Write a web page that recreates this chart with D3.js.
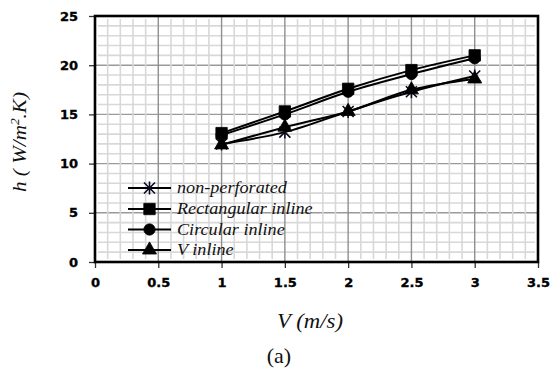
<!DOCTYPE html>
<html>
<head>
<meta charset="utf-8">
<script src="https://cdn.jsdelivr.net/npm/d3@7"></script>
<style>
  html, body { margin: 0; padding: 0; background: #fff; }
  svg { display: block; }
  .serif { font-family: "Liberation Serif", "Times New Roman", Times, serif; }
  .tick text { font-family: "DejaVu Sans", Verdana, sans-serif; font-weight: bold; font-size: 13px; }
</style>
</head>
<body>
<svg id="chart" width="551" height="372"></svg>
<script>
// Heat transfer coefficient vs. air velocity for four fin geometries
const velocity      = [1, 1.5, 2, 2.5, 3];
const nonPerforated = [12.0, 13.2, 15.3, 17.3, 18.9];
const rectangular   = [13.1, 15.3, 17.6, 19.5, 21.0];
const circular      = [12.9, 15.0, 17.3, 19.1, 20.7];
const vInline       = [11.9, 13.7, 15.3, 17.5, 18.6];

const seriesNames = ["non-perforated", "Rectangular inline", "Circular inline", "V inline"];
const seriesShapes = ["star", "square", "circle", "triangle"];
const seriesValues = [nonPerforated, rectangular, circular, vInline];

const xTicks = [0, 0.5, 1, 1.5, 2, 2.5, 3, 3.5];
const yTicks = [0, 5, 10, 15, 20, 25];

const svg = d3.select("#chart");
const m = { left: 95, top: 16, right: 538, bottom: 262 };

const x = d3.scaleLinear().domain([0, 3.5]).range([m.left, m.right]);
const y = d3.scaleLinear().domain([0, 25]).range([m.bottom, m.top]);

const grid = svg.append("g");

// major horizontal grid
grid.selectAll("line.hmaj").data(yTicks.slice(1, -1)).enter().append("line")
  .attr("x1", m.left).attr("x2", m.right)
  .attr("y1", d => y(d)).attr("y2", d => y(d))
  .attr("stroke", "#9a9a9a").attr("stroke-width", 1.4);

// minor grid
const minorX = d3.range(1, 35).map(i => i / 10).filter(v => Math.abs(v * 2 - Math.round(v * 2)) > 1e-6);
const minorY = d3.range(1, 25).filter(v => v % 5 !== 0);
grid.selectAll("line.vmin").data(minorX).enter().append("line")
  .attr("x1", d => x(d)).attr("x2", d => x(d))
  .attr("y1", m.top + 3).attr("y2", m.bottom - 3)
  .attr("stroke", "#d8d8d8").attr("stroke-width", 1.6);
grid.selectAll("line.hmin").data(minorY).enter().append("line")
  .attr("x1", m.left + 3).attr("x2", m.right - 3)
  .attr("y1", d => y(d)).attr("y2", d => y(d))
  .attr("stroke", "#d8d8d8").attr("stroke-width", 1.6);

// major vertical grid
grid.selectAll("line.vmaj").data(xTicks.slice(1, -1)).enter().append("line")
  .attr("x1", d => x(d)).attr("x2", d => x(d))
  .attr("y1", m.top).attr("y2", m.bottom)
  .attr("stroke", "#8f8f8f").attr("stroke-width", 1.4);

// axes
const xAxis = d3.axisBottom(x).tickValues(xTicks).tickSize(6).tickPadding(10)
  .tickFormat(d3.format("~g"));
const yAxis = d3.axisLeft(y).tickValues(yTicks).tickSize(6).tickPadding(11)
  .tickFormat(d3.format("~g"));

const gx = svg.append("g").attr("transform", `translate(0,${m.bottom})`).call(xAxis);
const gy = svg.append("g").attr("transform", `translate(${m.left},0)`).call(yAxis);
[gx, gy].forEach(g => {
  g.attr("font-family", null).attr("font-size", null);
  g.select(".domain").remove();
  g.selectAll(".tick line").attr("stroke", "#333").attr("stroke-width", 1.3);
  g.selectAll(".tick text").attr("fill", "#000")
    .attr("stroke", "#000").attr("stroke-width", 0.35);
});

// plot frame
svg.append("rect")
  .attr("x", m.left).attr("y", m.top)
  .attr("width", m.right - m.left).attr("height", m.bottom - m.top)
  .attr("fill", "none").attr("stroke", "#000").attr("stroke-width", 2.6);

// marker shapes
function markerPath(shape) {
  if (shape === "star") {
    const r = 5.5;
    return `M${-r},${-r}L${r},${r}M${-r},${r}L${r},${-r}M0,${-r - 1}L0,${r + 1}`;
  }
  if (shape === "square") return d3.symbol(d3.symbolSquare, 130)();
  if (shape === "circle") return d3.symbol(d3.symbolCircle, 100)();
  return d3.symbol(d3.symbolTriangle, 85)();
}

function drawMarker(g, shape, cx, cy) {
  const p = g.append("path")
    .attr("d", markerPath(shape))
    .attr("transform", `translate(${cx},${cy})`);
  if (shape === "star") {
    p.attr("fill", "none").attr("stroke", "#0b0b22").attr("stroke-width", 1.6);
  } else {
    p.attr("fill", "#000").attr("stroke", "#000").attr("stroke-width", 0.8);
  }
}

const line = d3.line().x(d => x(d[0])).y(d => y(d[1])).curve(d3.curveMonotoneX);

const plot = svg.append("g");
seriesValues.forEach((vals, i) => {
  const pts = velocity.map((v, j) => [v, vals[j]]);
  plot.append("path").datum(pts)
    .attr("d", line)
    .attr("fill", "none").attr("stroke", "#000").attr("stroke-width", 2);
});
seriesValues.forEach((vals, i) => {
  velocity.forEach((v, j) => drawMarker(plot, seriesShapes[i], x(v), y(vals[j])));
});

// legend
const legend = svg.append("g");
const legendRows = [188, 209, 229.5, 250];
seriesNames.forEach((name, i) => {
  const ly = legendRows[i];
  legend.append("line").attr("x1", 128).attr("x2", 171).attr("y1", ly).attr("y2", ly)
    .attr("stroke", "#000").attr("stroke-width", 2);
  drawMarker(legend, seriesShapes[i], 149.5, ly);
  const t = legend.append("text")
    .attr("class", "serif")
    .attr("x", 177).attr("y", ly + 5)
    .style("font-style", "italic")
    .style("font-size", "16.5px")
    .attr("fill", "#111")
    .text(name);
  const w = t.node().getComputedTextLength();
  t.attr("textLength", w * 1.1).attr("lengthAdjust", "spacingAndGlyphs");
});

// axis titles
const yTitle = svg.append("text")
  .attr("class", "serif")
  .attr("transform", "translate(26,142) rotate(-90)")
  .attr("text-anchor", "middle")
  .style("font-style", "italic").style("font-size", "19px")
  .attr("fill", "#111");
yTitle.append("tspan").text("h ( W/m");
yTitle.append("tspan").attr("dy", -7).style("font-size", "12px").text("2");
yTitle.append("tspan").attr("dy", 7).text(".K)");
{
  const w = yTitle.node().getComputedTextLength();
  yTitle.attr("textLength", Math.max(w, 100)).attr("lengthAdjust", "spacingAndGlyphs");
}

const xTitle = svg.append("text")
  .attr("class", "serif")
  .attr("x", 310).attr("y", 328)
  .attr("text-anchor", "middle")
  .style("font-style", "italic").style("font-size", "21px")
  .attr("fill", "#111")
  .text("V (m/s)");
{
  const w = xTitle.node().getComputedTextLength();
  xTitle.attr("textLength", Math.max(w, 66)).attr("lengthAdjust", "spacingAndGlyphs");
}

svg.append("text")
  .attr("class", "serif")
  .attr("x", 279).attr("y", 363)
  .attr("text-anchor", "middle")
  .style("font-size", "22px")
  .attr("fill", "#111")
  .text("(a)");
</script>
</body>
</html>
